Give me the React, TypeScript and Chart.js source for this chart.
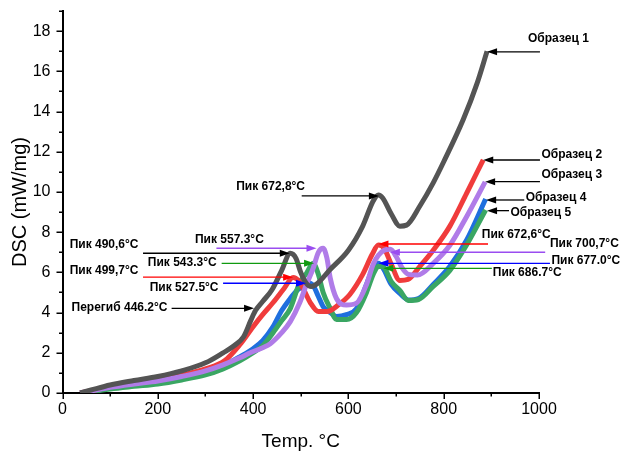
import React, { useEffect, useRef } from "react";
import { Chart, registerables } from "chart.js";

Chart.register(...registerables);

// ---------- data ----------
const temps1 = [37, 60, 100, 150, 200, 250, 300, 337, 360, 380, 395, 405, 420, 440, 460, 478, 490, 500, 512, 522, 535, 560, 600, 630, 652, 663, 672, 690, 708, 722, 750, 778, 800, 841, 870, 891];
const dsc1 = [0, 0.15, 0.4, 0.62, 0.82, 1.1, 1.5, 2.0, 2.35, 2.8, 3.6, 4.1, 4.55, 5.15, 6.1, 6.95, 6.7, 6.0, 5.45, 5.3, 5.45, 6.1, 7.1, 8.3, 9.55, 9.85, 9.7, 8.9, 8.3, 8.35, 9.3, 10.45, 11.5, 13.6, 15.4, 17.0];

const temps2 = [37, 60, 100, 150, 200, 250, 300, 340, 372, 400, 420, 442, 465, 484, 495, 505, 520, 537, 555, 580, 603, 630, 650, 663, 675, 690, 708, 725, 750, 778, 813, 848, 883];
const dsc2 = [0, 0.12, 0.32, 0.5, 0.68, 0.9, 1.2, 1.6, 2.4, 3.3, 3.9, 4.5, 5.2, 5.75, 5.6, 5.2, 4.5, 4.05, 4.05, 4.4, 4.9, 5.9, 6.9, 7.36, 7.2, 6.4, 5.6, 5.65, 6.3, 7.1, 8.3, 9.93, 11.6];

const temps3 = [37, 60, 100, 150, 200, 250, 300, 337, 372, 394, 420, 436, 460, 478, 498, 512, 526, 537, 547, 555, 562, 575, 596, 617, 638, 652, 663, 675, 688, 700, 712, 726, 745, 778, 813, 848, 887];
const dsc3 = [0, 0.1, 0.28, 0.45, 0.6, 0.82, 1.1, 1.4, 1.75, 2.0, 2.25, 2.45, 3.0, 3.55, 4.5, 5.4, 6.2, 7.0, 7.2, 6.7, 5.7, 4.7, 4.38, 4.47, 5.4, 6.4, 6.85, 7.1, 7.15, 6.8, 6.25, 5.9, 5.87, 6.45, 7.35, 8.77, 10.5];

const temps4 = [37, 60, 100, 150, 200, 250, 300, 337, 372, 400, 420, 442, 460, 478, 490, 500, 512, 526, 537, 547, 562, 575, 596, 617, 638, 652, 663, 673, 690, 708, 726, 747, 778, 813, 848, 888];
const dsc4 = [0, 0.08, 0.25, 0.4, 0.55, 0.75, 1.0, 1.35, 1.8, 2.2, 2.6, 3.3, 4.1, 4.7, 5.05, 5.25, 5.5, 5.35, 4.8, 4.3, 4.0, 3.8, 3.9, 4.2, 5.4, 6.2, 6.45, 6.2, 5.4, 4.95, 4.63, 4.7, 5.4, 6.3, 7.6, 9.65];

const temps5 = [37, 60, 100, 150, 200, 250, 300, 337, 372, 400, 420, 442, 460, 478, 498, 512, 526, 537, 547, 562, 575, 596, 617, 638, 652, 663, 673, 690, 708, 726, 747, 778, 813, 848, 888];
const dsc5 = [0, 0.06, 0.2, 0.33, 0.45, 0.65, 0.9, 1.2, 1.6, 2.0, 2.35, 3.0, 3.6, 4.2, 5.5, 5.95, 6.45, 5.9, 5.0, 4.2, 3.65, 3.65, 4.0, 5.0, 5.9, 6.3, 6.28, 5.54, 5.1, 4.6, 4.65, 5.3, 6.1, 7.36, 9.1];

const xTickValues = [0, 200, 400, 600, 800, 1000];
const yTickValues = [0, 2, 4, 6, 8, 10, 12, 14, 16, 18];

// annotations: text, text anchor (data coords), arrow from/to (temp) at level y
type Ann = { text: string; tx: number; ty: number; align: CanvasTextAlign; from: number; to: number; y: number; color: string };
const annotations: Ann[] = [
  { text: "Образец 1", tx: 977, ty: 17.61, align: "left", from: 1002, to: 891, y: 16.97, color: "#000" },
  { text: "Образец 2", tx: 1005, ty: 11.84, align: "left", from: 1002, to: 883, y: 11.59, color: "#000" },
  { text: "Образец 3", tx: 1005, ty: 10.85, align: "left", from: 1002, to: 887, y: 10.51, color: "#000" },
  { text: "Образец 4", tx: 972, ty: 9.72, align: "left", from: 969, to: 889, y: 9.6, color: "#000" },
  { text: "Образец 5", tx: 940, ty: 8.97, align: "left", from: 937, to: 891, y: 9.07, color: "#000" },
  { text: "Пик 672,8°C", tx: 509, ty: 10.25, align: "right", from: 502, to: 664, y: 9.8, color: "#000" },
  { text: "Пик 490,6°C", tx: 15, ty: 7.36, align: "left", from: 169, to: 477, y: 6.95, color: "#000" },
  { text: "Пик 557.3°C", tx: 278, ty: 7.65, align: "left", from: 323, to: 533, y: 7.2, color: "#9a4df0" },
  { text: "Пик 543.3°C", tx: 179, ty: 6.48, align: "left", from: 334, to: 528, y: 6.45, color: "#109a10" },
  { text: "Пик 499,7°C", tx: 15, ty: 6.08, align: "left", from: 169, to: 484, y: 5.76, color: "#ff0000" },
  { text: "Пик 527.5°C", tx: 183, ty: 5.24, align: "left", from: 337, to: 511, y: 5.46, color: "#0000ff" },
  { text: "Перегиб 446.2°C", tx: 19, ty: 4.26, align: "left", from: 229, to: 402, y: 4.21, color: "#000" },
  { text: "Пик 672,6°C", tx: 880, ty: 7.86, align: "left", from: 893, to: 663, y: 7.41, color: "#ff0000" },
  { text: "Пик 700,7°C", tx: 1023, ty: 7.45, align: "left", from: 1013, to: 687, y: 7.0, color: "#9a4df0" },
  { text: "Пик 677.0°C", tx: 1026, ty: 6.58, align: "left", from: 1023, to: 663, y: 6.45, color: "#0000ff" },
  { text: "Пик 686.7°C", tx: 903, ty: 5.99, align: "left", from: 901, to: 673, y: 6.2, color: "#109a10" },
];

const FONT = '"Liberation Sans", Arial, sans-serif';

const pts = (t: number[], v: number[]) => t.map((x, i) => ({ x, y: v[i] }));

const arrowsPlugin = {
  id: "arrows",
  afterDatasetsDraw(chart: any) {
    const { ctx, scales } = chart;
    const xs = scales.x, ys = scales.y;
    ctx.save();
    for (const a of annotations) {
      const x0 = xs.getPixelForValue(a.from);
      const x1 = xs.getPixelForValue(a.to);
      const py = ys.getPixelForValue(a.y);
      const dir = Math.sign(x1 - x0);
      ctx.strokeStyle = a.color;
      ctx.fillStyle = a.color;
      ctx.lineWidth = 1.3;
      ctx.beginPath();
      ctx.moveTo(x0, py);
      ctx.lineTo(x1 - dir * 8, py);
      ctx.stroke();
      ctx.beginPath();
      ctx.moveTo(x1, py);
      ctx.lineTo(x1 - dir * 10, py - 3.5);
      ctx.lineTo(x1 - dir * 10, py + 3.5);
      ctx.closePath();
      ctx.fill();
      ctx.fillStyle = "#000";
      ctx.font = `bold 12px ${FONT}`;
      ctx.textAlign = a.align;
      ctx.textBaseline = "middle";
      ctx.fillText(a.text, xs.getPixelForValue(a.tx), ys.getPixelForValue(a.ty));
    }
    ctx.restore();
  },
  afterDraw(chart: any) {
    const { ctx, scales, chartArea } = chart;
    ctx.save();
    ctx.strokeStyle = "#000";
    ctx.lineWidth = 1.5;
    for (let v = 0; v <= 19; v++) {
      const py = Math.round(scales.y.getPixelForValue(v)) + 0.25;
      const len = v % 2 === 0 ? 6 : 3.5;
      ctx.beginPath();
      ctx.moveTo(chartArea.left - len, py);
      ctx.lineTo(chartArea.left, py);
      ctx.stroke();
    }
    for (let v = 0; v <= 1000; v += 100) {
      const px = Math.round(scales.x.getPixelForValue(v)) + 0.25;
      const len = v % 200 === 0 ? 6 : 3.5;
      ctx.beginPath();
      ctx.moveTo(px, chartArea.bottom);
      ctx.lineTo(px, chartArea.bottom + len);
      ctx.stroke();
    }
    ctx.restore();
  },
};

export default function App() {
  const ref = useRef<HTMLCanvasElement | null>(null);
  useEffect(() => {
    if (!ref.current) return;
    const mk = (label: string, t: number[], v: number[], color: string) => ({
      label,
      data: pts(t, v),
      borderColor: color,
      backgroundColor: color,
      borderWidth: 5,
      pointRadius: 0,
      cubicInterpolationMode: "monotone" as const,
      fill: false,
    });
    const chart = new Chart(ref.current, {
      type: "line",
      data: {
        datasets: [
          mk("Образец 1", temps1, dsc1, "#545454"),
          mk("Образец 3", temps3, dsc3, "#b07ce8"),
          mk("Образец 2", temps2, dsc2, "#f03c3c"),
          mk("Образец 5", temps5, dsc5, "#3aa663"),
          mk("Образец 4", temps4, dsc4, "#1f6fde"),
        ],
      },
      options: {
        animation: false,
        responsive: false,
        layout: { padding: { top: 11, right: 84, left: 0, bottom: 0 } },
        plugins: { legend: { display: false }, tooltip: { enabled: false } },
        scales: {
          x: {
            type: "linear",
            min: 0,
            max: 1000,
            afterFit: (s: any) => { s.height = 58; s.paddingLeft = 0; s.paddingRight = 0; },
            grid: { display: false, drawTicks: false, tickLength: 0 },
            border: { display: true, color: "#000", width: 2 },
            afterBuildTicks: (s: any) => { s.ticks = xTickValues.map((value) => ({ value })); },
            ticks: { color: "#000", font: { family: FONT, size: 16 }, padding: 7, maxRotation: 0, autoSkip: false, callback: (v: any) => String(v) },
            title: { display: true, text: "Temp. °C", color: "#000", font: { family: FONT, size: 19, lineHeight: 1 }, padding: { top: 0, bottom: 0 } },
          },
          y: {
            type: "linear",
            min: 0,
            max: 19,
            afterFit: (s: any) => { s.width = 62.5; s.paddingTop = 0; s.paddingBottom = 0; },
            grid: { display: false, drawTicks: false, tickLength: 0 },
            border: { display: true, color: "#000", width: 2 },
            afterBuildTicks: (s: any) => { s.ticks = yTickValues.map((value) => ({ value })); },
            ticks: { color: "#000", font: { family: FONT, size: 16 }, padding: 12, autoSkip: false, callback: (v: any) => String(v) },
            title: { display: true, text: "DSC (mW/mg)", color: "#000", font: { family: FONT, size: 20 }, padding: { top: 8, bottom: 0 } },
          },
        },
      },
      plugins: [arrowsPlugin],
    } as any);
    return () => chart.destroy();
  }, []);
  return (
    <div style={{ position: "fixed", left: 0, top: 0, width: 623, height: 451, background: "#fff" }}>
      <canvas ref={ref} width={623} height={451} style={{ display: "block" }} />
    </div>
  );
}
